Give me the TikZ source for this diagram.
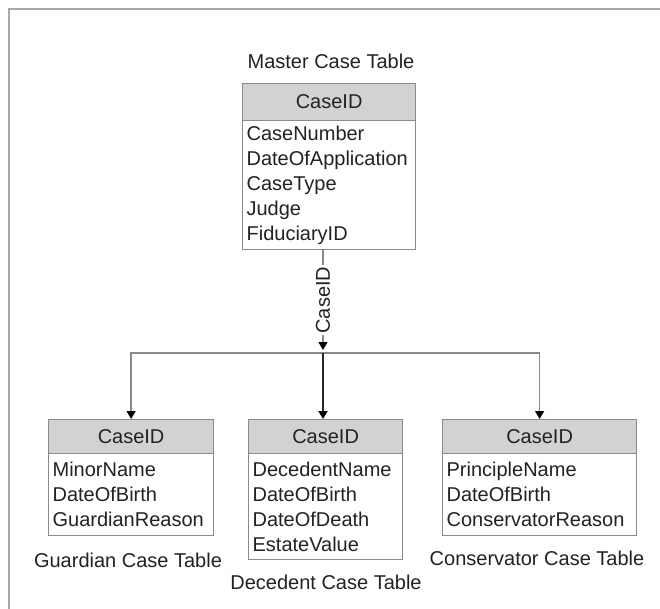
\documentclass[tikz,border=0pt]{standalone}
\usepackage{fontspec}
\setmainfont{Liberation Sans}
\usetikzlibrary{arrows.meta}
\definecolor{framegray}{HTML}{A8A8A8}
\definecolor{boxgray}{HTML}{8A8A8A}
\definecolor{headfill}{HTML}{D2D2D2}
\definecolor{txt}{HTML}{222222}
\tikzset{
  tfont/.style={font=\fontsize{20}{25}\selectfont, text=txt},
  thead/.style={tfont, draw=boxgray, line width=1.2pt, fill=headfill, anchor=north west, inner sep=0pt},
  tbody/.style={tfont, draw=boxgray, line width=1.2pt, fill=white, anchor=north west, align=left, inner xsep=4pt, inner ysep=0pt},
  tlabel/.style={tfont, inner sep=0pt},
  conn/.style={draw=boxgray, line width=1.3pt},
  mainconn/.style={draw=black!85, line width=1.8pt},
  tip/.style={-{Triangle[width=9pt,length=8pt,color=black]}}
}
\begin{document}
\begin{tikzpicture}[x=1pt,y=-1pt]
\useasboundingbox (0,0) rectangle (660,609);
\fill[white] (0,0) rectangle (660,609);
% frame
\draw[framegray, line width=2pt] (8.5,609) -- (8.5,9) -- (660,9);

% master table
\node[tlabel] (mlabel) at (331,61) {Master Case Table};
\node[thead, minimum width=173pt, minimum height=37pt] (mhead) at (242,83) {CaseID};
\node[tbody, text width=165pt, minimum height=129pt] (mbody) at (242,120)
  {CaseNumber\\DateOfApplication\\CaseType\\Judge\\FiduciaryID};

% guardian table
\node[thead, minimum width=165pt, minimum height=34pt] (ghead) at (48,419) {CaseID};
\node[tbody, text width=157pt, minimum height=82pt] (gbody) at (48,453)
  {MinorName\\DateOfBirth\\GuardianReason};
\node[tlabel] (glabel) at (128,560) {Guardian Case Table};

% decedent table
\node[thead, minimum width=154pt, minimum height=34pt] (dhead) at (248,419) {CaseID};
\node[tbody, text width=146pt, minimum height=106pt] (dbody) at (248,453)
  {DecedentName\\DateOfBirth\\DateOfDeath\\EstateValue};
\node[tlabel] (dlabel) at (326,582) {Decedent Case Table};

% conservator table
\node[thead, minimum width=194pt, minimum height=34pt] (chead) at (442,419) {CaseID};
\node[tbody, text width=186pt, minimum height=82pt] (cbody) at (442,453)
  {PrincipleName\\DateOfBirth\\ConservatorReason};
\node[tlabel] (clabel) at (537,558) {Conservator Case Table};

% connectors
\coordinate (jarr) at (323,350);
\coordinate (j) at (323,353);
\draw[conn, tip] (mbody.south -| jarr) -- node[tlabel, rotate=90, fill=white, inner xsep=2pt] (cid) {CaseID} (jarr);
\draw[conn, tip] (j) -| (ghead.north);
\draw[conn, tip] (j) -| (chead.north);
\draw[mainconn, tip] (j) -- (dhead.north -| j);
\end{tikzpicture}
\end{document}
